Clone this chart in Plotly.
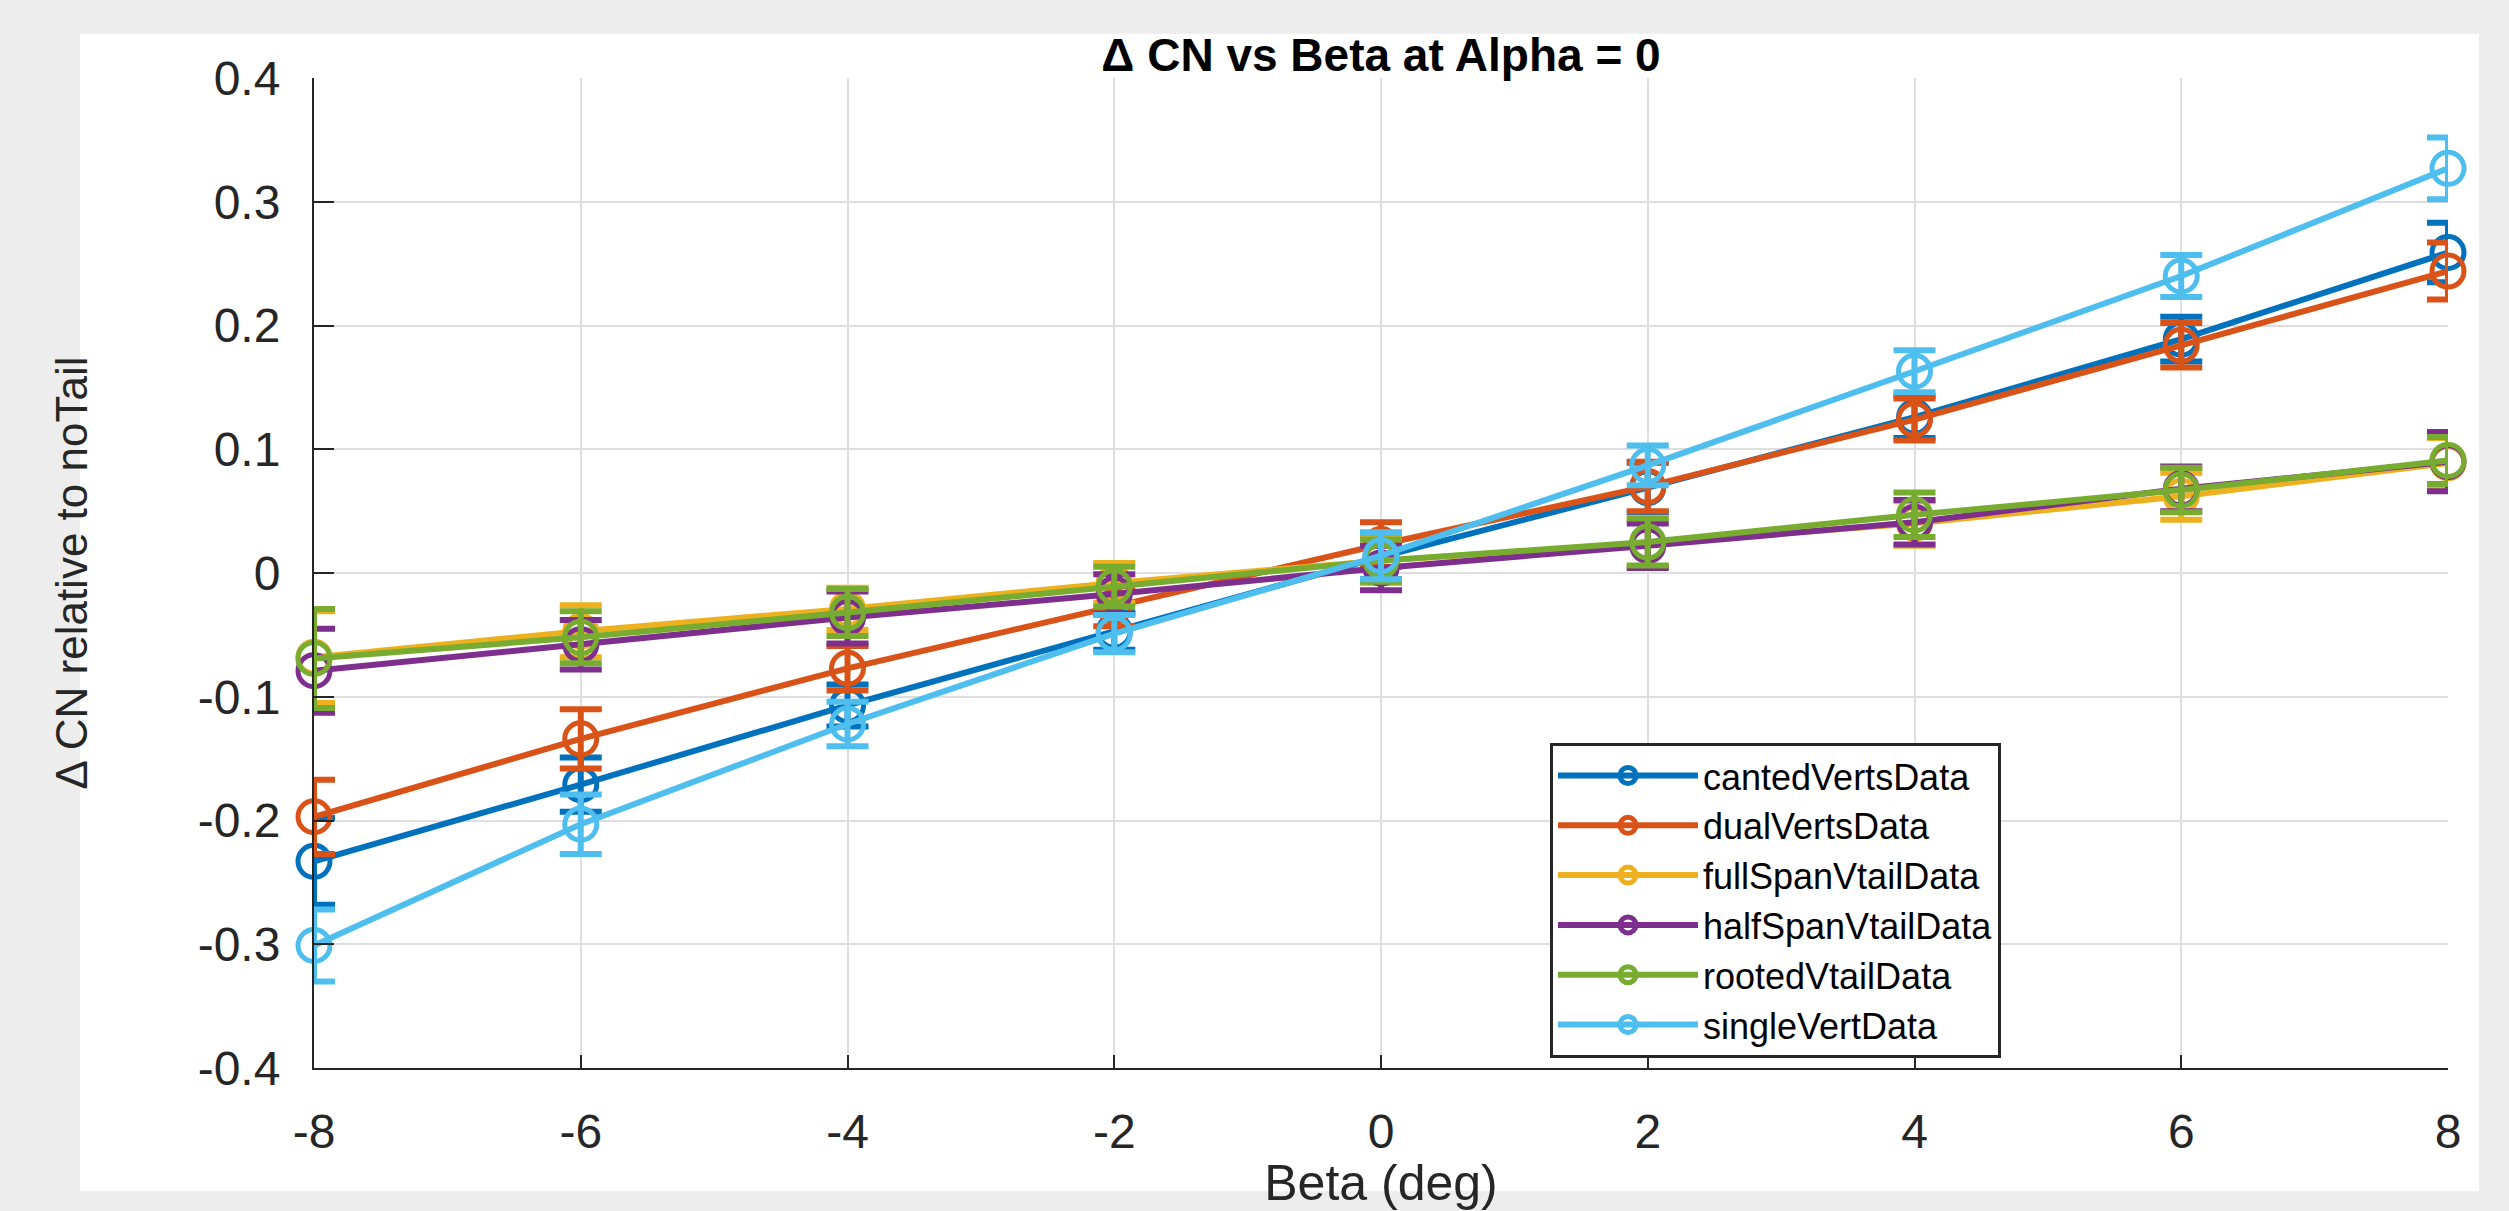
import plotly.graph_objects as go

# Sideslip angles (deg)
beta = [-8, -6, -4, -2, 0, 2, 4, 6, 8]

# Delta CN (relative to no tail) and its uncertainty for each tail configuration
canted_verts = [-0.233, -0.171, -0.107, -0.047, 0.013, 0.069, 0.126, 0.189, 0.259]
canted_verts_err = [0.035, 0.022, 0.017, 0.015, 0.018, 0.020, 0.017, 0.018, 0.024]

dual_verts = [-0.197, -0.134, -0.077, -0.027, 0.023, 0.070, 0.124, 0.184, 0.244]
dual_verts_err = [0.030, 0.024, 0.018, 0.016, 0.018, 0.020, 0.017, 0.018, 0.023]

full_span_vtail = [-0.068, -0.047, -0.029, -0.008, 0.010, 0.024, 0.040, 0.062, 0.089]
full_span_vtail_err = [0.037, 0.021, 0.017, 0.016, 0.018, 0.019, 0.018, 0.019, 0.020]

half_span_vtail = [-0.079, -0.058, -0.036, -0.017, 0.004, 0.022, 0.041, 0.068, 0.090]
half_span_vtail_err = [0.034, 0.020, 0.021, 0.016, 0.018, 0.018, 0.018, 0.018, 0.024]

rooted_vtail = [-0.069, -0.052, -0.032, -0.011, 0.010, 0.025, 0.047, 0.067, 0.091]
rooted_vtail_err = [0.040, 0.021, 0.019, 0.016, 0.017, 0.019, 0.018, 0.018, 0.019]

single_vert = [-0.301, -0.203, -0.122, -0.049, 0.014, 0.087, 0.163, 0.240, 0.327]
single_vert_err = [0.029, 0.024, 0.018, 0.015, 0.019, 0.016, 0.017, 0.017, 0.025]

series_names = ["cantedVertsData", "dualVertsData", "fullSpanVtailData",
                "halfSpanVtailData", "rootedVtailData", "singleVertData"]
series_values = [canted_verts, dual_verts, full_span_vtail,
                 half_span_vtail, rooted_vtail, single_vert]
series_errors = [canted_verts_err, dual_verts_err, full_span_vtail_err,
                 half_span_vtail_err, rooted_vtail_err, single_vert_err]
series_colors = ["#0072BD", "#D95319", "#EDB120", "#7E2F8E", "#77AC30", "#4DBEEE"]

x_ticks = [-8, -6, -4, -2, 0, 2, 4, 6, 8]
x_tick_text = ["-8", "-6", "-4", "-2", "0", "2", "4", "6", "8"]
y_ticks = [-0.4, -0.3, -0.2, -0.1, 0, 0.1, 0.2, 0.3, 0.4]
y_tick_text = ["-0.4", "-0.3", "-0.2", "-0.1", "0", "0.1", "0.2", "0.3", "0.4"]

FONT = "Liberation Sans, Arial, Helvetica, sans-serif"
AXIS_COLOR = "#262626"
GRID_COLOR = "#dedede"

fig = go.Figure()

for name, vals, errs, color in zip(series_names, series_values, series_errors, series_colors):
    fig.add_trace(go.Scatter(
        x=beta,
        y=vals,
        name=name,
        mode="lines+markers",
        line=dict(color=color, width=6),
        marker=dict(symbol="circle-open", size=32, color=color, line=dict(width=5, color=color)),
        error_y=dict(type="data", array=errs, visible=True, color=color, thickness=6, width=21),
        cliponaxis=False,
    ))

W, H = 2509, 1211
L, R, T, B = 314, 61, 78, 129
pw = W - L - R
ph = H - T - B

# White figure panel sitting on the grey page background
fig.add_shape(
    type="rect", xref="paper", yref="paper",
    x0=(80 - L) / pw, x1=(2479 - L) / pw,
    y0=(H - B - 1207) / ph, y1=(H - B - 33) / ph,
    fillcolor="white", line=dict(width=0), layer="below",
)

fig.update_layout(
    width=W, height=H,
    margin=dict(l=L, r=R, t=T, b=B, pad=0),
    paper_bgcolor="#ededed",
    plot_bgcolor="white",
    font=dict(family=FONT, color=AXIS_COLOR),
    title=dict(
        text="<b>\u0394 CN vs Beta at Alpha = 0</b>",
        x=0.5, xref="paper", xanchor="center",
        y=1 - 55 / H, yref="container", yanchor="middle",
        font=dict(family=FONT, size=46, color="black"),
    ),
    showlegend=True,
    legend=dict(
        x=(1550 - L) / pw, y=(H - B - 752) / ph,
        xanchor="left", yanchor="top",
        bgcolor="white", bordercolor=AXIS_COLOR, borderwidth=3,
        font=dict(family=FONT, size=36, color="black"),
        itemwidth=140,
        tracegroupgap=0,
    ),
)

fig.update_xaxes(
    range=[-8, 8],
    tickvals=x_ticks, ticktext=x_tick_text,
    ticks="inside", ticklen=13, tickwidth=2, tickcolor=AXIS_COLOR,
    ticklabelstandoff=20,
    tickfont=dict(family=FONT, size=48, color=AXIS_COLOR),
    showline=True, linecolor=AXIS_COLOR, linewidth=2,
    showgrid=True, gridcolor=GRID_COLOR, gridwidth=2,
    zeroline=False, mirror=False,
    title=dict(text="Beta (deg)", standoff=6,
               font=dict(family=FONT, size=50, color=AXIS_COLOR)),
)

fig.update_yaxes(
    range=[-0.4, 0.4],
    tickvals=y_ticks, ticktext=y_tick_text,
    ticks="inside", ticklen=20, tickwidth=2, tickcolor=AXIS_COLOR,
    ticklabelstandoff=22,
    tickfont=dict(family=FONT, size=48, color=AXIS_COLOR),
    showline=True, linecolor=AXIS_COLOR, linewidth=2,
    showgrid=True, gridcolor=GRID_COLOR, gridwidth=2,
    zeroline=False, mirror=False,
    title=dict(text="\u0394 CN relative to noTail", standoff=96,
               font=dict(family=FONT, size=44, color=AXIS_COLOR)),
)

fig.write_html("out.html")
